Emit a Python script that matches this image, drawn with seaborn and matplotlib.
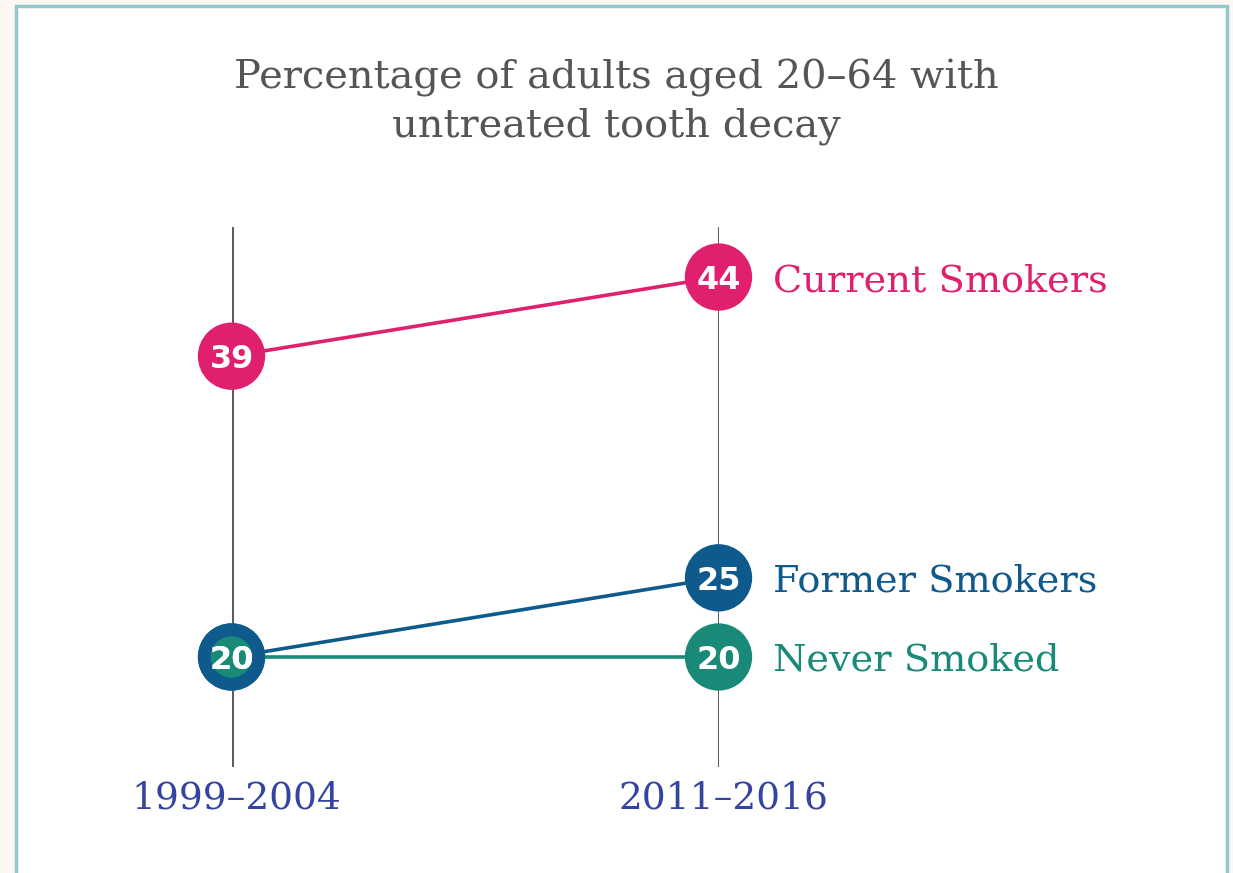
import matplotlib
matplotlib.use("Agg")
import matplotlib.pyplot as plt
import matplotlib.transforms as mtransforms
import seaborn as sns
import pandas as pd
from matplotlib.patches import Rectangle

# ---- data ----
periods = ["1999–2004", "2011–2016"]
groups = ["Current Smokers", "Former Smokers", "Never Smoked"]
current_smokers = [39, 44]
former_smokers = [20, 25]
never_smoked = [20, 20]
title = "Percentage of adults aged 20–64 with\nuntreated tooth decay"

colors = {"Current Smokers": "#e0206e", "Former Smokers": "#0f5a8c", "Never Smoked": "#1a8a78"}

rows = []
for g, vals in zip(groups, [current_smokers, former_smokers, never_smoked]):
    for i, (p, v) in enumerate(zip(periods, vals)):
        rows.append({"group": g, "period": p, "x": i, "value": v})
df = pd.DataFrame(rows)

sns.set_theme(style="white")
plt.rcParams["font.family"] = ["DejaVu Serif"]

W, H = 1233, 873
fig = plt.figure(figsize=(W / 100, H / 100), dpi=100, facecolor="#fbf8f3")

# frame (behind everything)
frame = Rectangle((16 / W, -0.1), (1227 - 16) / W, (H - 6) / H + 0.1,
                  transform=fig.transFigure, facecolor="white",
                  edgecolor="#93c9cc", linewidth=2.5, zorder=-10)
fig.patches.append(frame)

ax = fig.add_axes([231.5 / W, (H - 767) / H, (718 - 231) / W, (767 - 227) / H])
ax.set_facecolor("none")
ax.set_zorder(1)
ax.set_xlim(0, 1)
ax.set_ylim(13.05, 47.16)

for i in range(len(periods)):
    ax.axvline(i, color="#5e5e5e", lw=2.2, zorder=1)

sns.lineplot(data=df, x="x", y="value", hue="group", hue_order=groups,
             palette=colors, lw=2.6, legend=False, ax=ax, zorder=2)

draw_order = ["Never Smoked", "Former Smokers", "Current Smokers"]
big = 2350
for g in draw_order:
    sub = df[df.group == g]
    sns.scatterplot(data=sub, x="x", y="value", color=colors[g], s=big,
                    edgecolor="none", legend=False, ax=ax, zorder=3, clip_on=False)
# overlapping points: show the lower-layer group as an inner circle
for (x, v), grp in df.groupby(["x", "value"]):
    if len(grp) > 1:
        inner = grp[grp.group == "Never Smoked"]
        if len(inner):
            sns.scatterplot(data=inner, x="x", y="value", color=colors["Never Smoked"],
                            s=big * 0.38, edgecolor="none", legend=False, ax=ax,
                            zorder=4, clip_on=False)

for _, r in df.iterrows():
    ax.text(r.x, r.value, f"{r.value}", color="white", fontsize=23, fontweight="bold",
            family="DejaVu Sans", ha="center", va="center_baseline", zorder=5)

for g, vals in zip(groups, [current_smokers, former_smokers, never_smoked]):
    ax.annotate(g, xy=(1, vals[-1]), xytext=(39, 0), textcoords="offset points",
                color=colors[g], fontsize=27.5, ha="left", va="center_baseline",
                annotation_clip=False)

ax.set_xticks(range(len(periods)))
ax.set_xticklabels(periods, fontsize=27, color="#3544a0")
ax.tick_params(axis="x", length=0, pad=10)
shift = mtransforms.ScaledTranslation(5 / 100, 0, fig.dpi_scale_trans)
for lab in ax.get_xticklabels():
    lab.set_transform(lab.get_transform() + shift)
ax.set_yticks([])
ax.set_xlabel("")
ax.set_ylabel("")
for s in ax.spines.values():
    s.set_visible(False)

fig.text(0.5, 1 - 102 / H, title, ha="center", va="center", fontsize=28.8,
         color="#555555", linespacing=1.35)

fig.savefig("out.png", dpi=100, facecolor=fig.get_facecolor())
